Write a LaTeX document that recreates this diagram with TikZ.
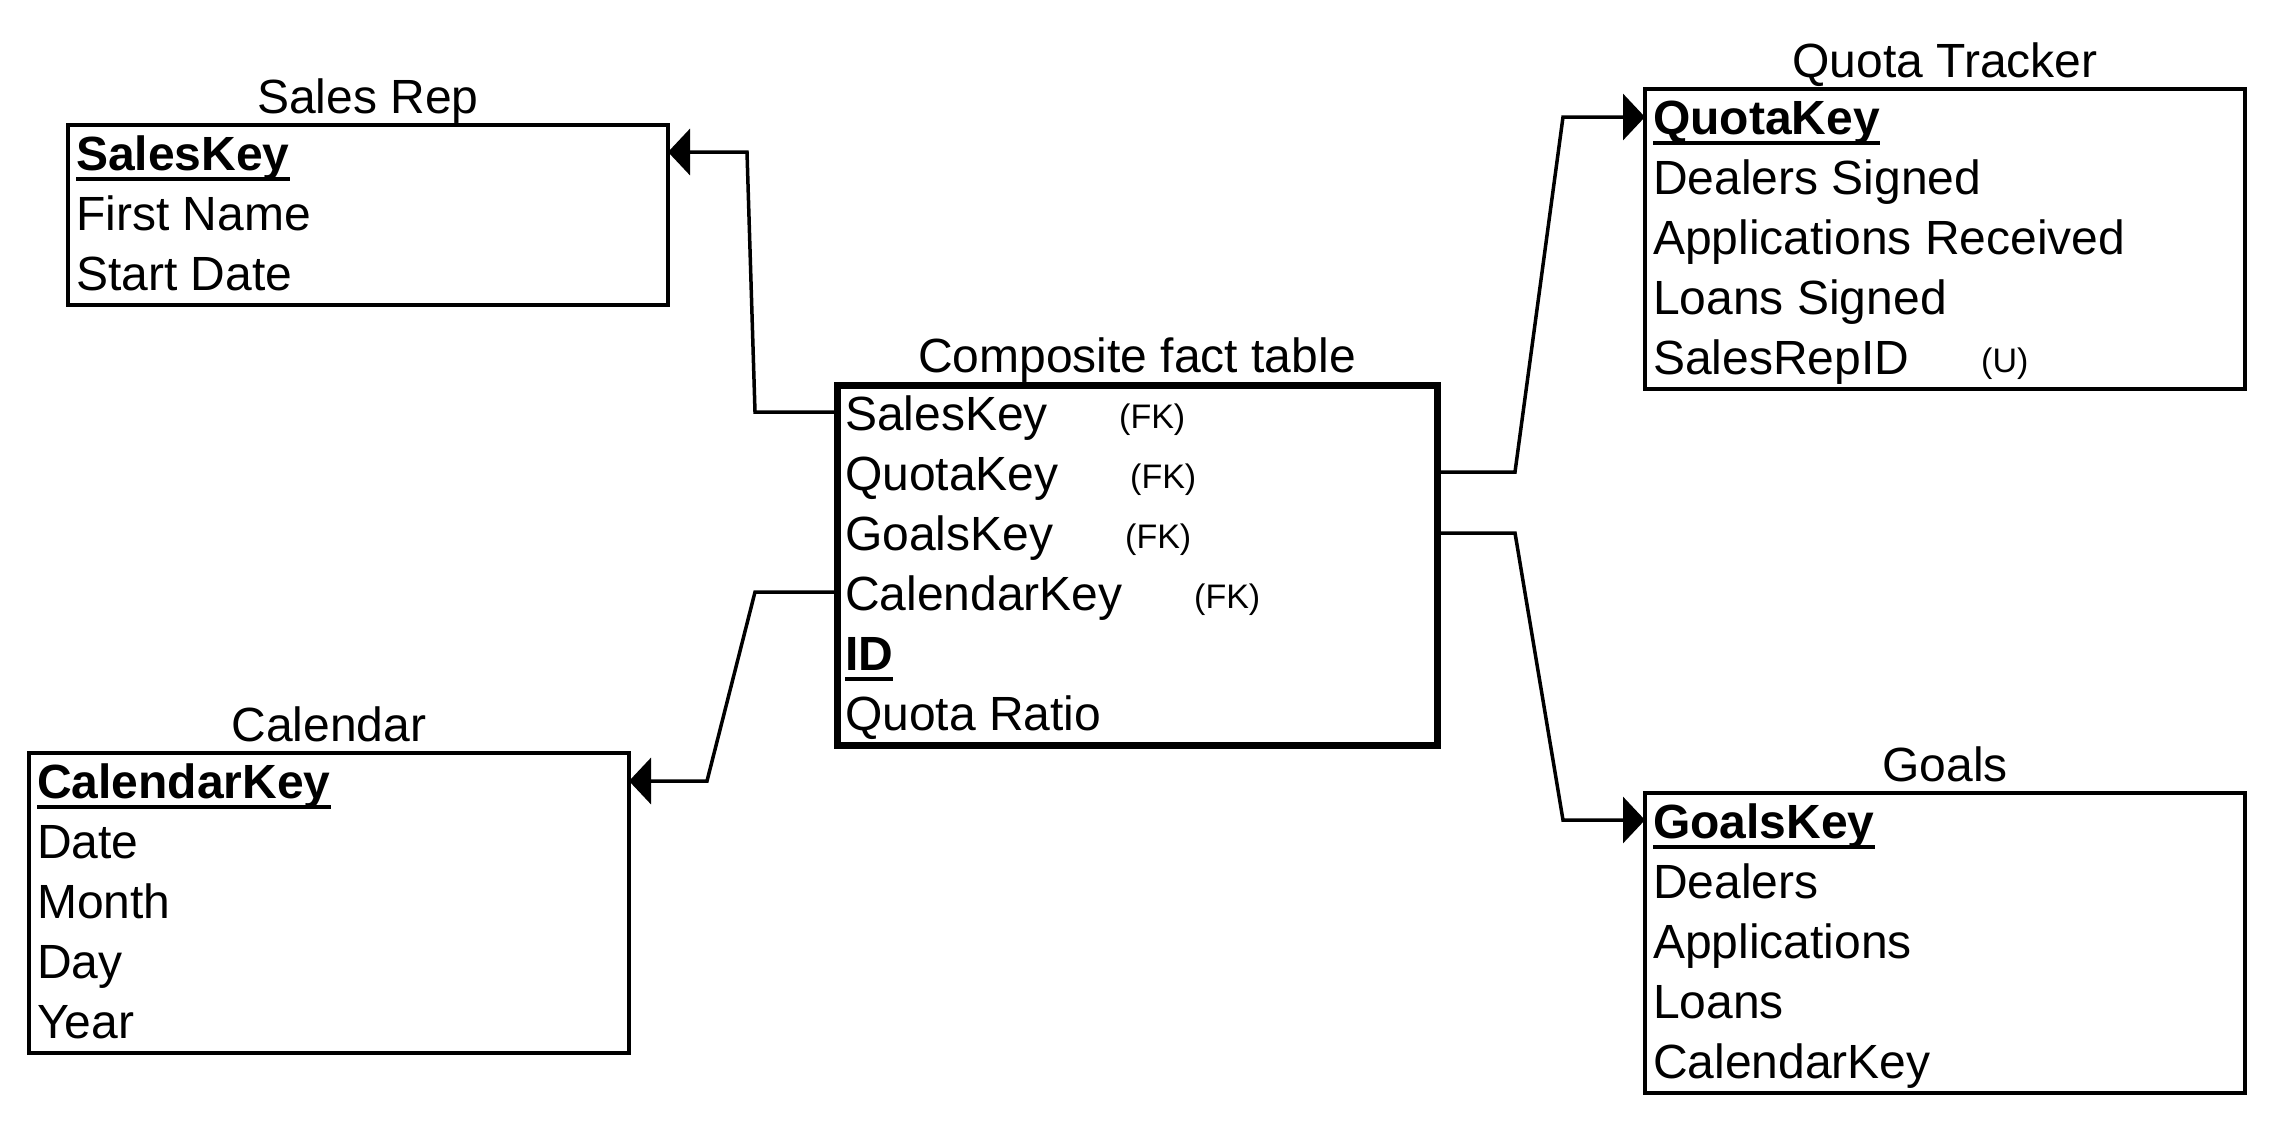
\documentclass[tikz,border=0pt]{standalone}
\usepackage{fontspec}
\setmainfont{Liberation Sans}
\usetikzlibrary{arrows.meta}
\newsavebox\kbox
\newcommand{\keyfield}[1]{{\bfseries\sbox\kbox{#1}\rlap{\rule[-0.225em]{\wd\kbox}{0.075em}}\usebox\kbox}}
\begin{document}
\begin{tikzpicture}[x=1pt,y=-1pt,
  tbox/.style={draw=black, line width=4pt, inner sep=0pt, outer sep=0pt, anchor=north west, minimum width=600pt},
  fbox/.style={tbox, line width=7pt},
  field/.style={anchor=base west, inner sep=0pt, font=\fontsize{48}{56}\selectfont},
  tag/.style={anchor=base west, inner sep=0pt, font=\fontsize{34}{40}\selectfont},
  ttl/.style={anchor=base, inner sep=0pt, font=\fontsize{48}{56}\selectfont},
  conn/.style={line width=3.5pt, line join=miter},
  arr/.style={conn, -{Triangle[length=22pt,width=46pt]}}]

\fill[white] (0,0) rectangle (2272,1120);
\useasboundingbox (0,0) rectangle (2272,1120);

% ---------- Sales Rep ----------
\node[tbox, minimum height=180pt] (sr) at (68,125) {};
\node[ttl] (srt) at (368,113) {Sales Rep};
\node[field] (sr1) at (76,170) {\keyfield{SalesKey}};
\node[field] (sr2) at (76,230) {First Name};
\node[field] (sr3) at (76,290) {Start Date};

% ---------- Composite fact table ----------
\node[fbox, minimum height=360pt] (ft) at (837,385) {};
\node[ttl] (ftt) at (1137,372) {Composite fact table};
\node[field] (f1) at (845,430) {SalesKey};
\node[field] (f2) at (845,490) {QuotaKey};
\node[field] (f3) at (845,550) {GoalsKey};
\node[field] (f4) at (845,610) {CalendarKey};
\node[field] (f5) at (845,670) {\keyfield{ID}};
\node[field] (f6) at (845,730) {Quota Ratio};
\node[tag] (fk1) at (1119,428) {(FK)};
\node[tag] (fk2) at (1130,488) {(FK)};
\node[tag] (fk3) at (1125,548) {(FK)};
\node[tag] (fk4) at (1194,608) {(FK)};

% ---------- Quota Tracker ----------
\node[tbox, minimum height=300pt] (qt) at (1645,89) {};
\node[ttl] (qtt) at (1945,77) {Quota Tracker};
\node[field] (q1) at (1653,134) {\keyfield{QuotaKey}};
\node[field] (q2) at (1653,194) {Dealers Signed};
\node[field] (q3) at (1653,254) {Applications Received};
\node[field] (q4) at (1653,314) {Loans Signed};
\node[field] (q5) at (1653,374) {SalesRepID};
\node[tag] (qu) at (1981,372) {(U)};

% ---------- Goals ----------
\node[tbox, minimum height=300pt] (gl) at (1645,793) {};
\node[ttl] (glt) at (1945,781) {Goals};
\node[field] (g1) at (1653,838) {\keyfield{GoalsKey}};
\node[field] (g2) at (1653,898) {Dealers};
\node[field] (g3) at (1653,958) {Applications};
\node[field] (g4) at (1653,1018) {Loans};
\node[field] (g5) at (1653,1078) {CalendarKey};

% ---------- Calendar ----------
\node[tbox, minimum height=300pt] (cal) at (29,753) {};
\node[ttl] (calt) at (329,741) {Calendar};
\node[field] (c1) at (37,798) {\keyfield{CalendarKey}};
\node[field] (c2) at (37,858) {Date};
\node[field] (c3) at (37,918) {Month};
\node[field] (c4) at (37,978) {Day};
\node[field] (c5) at (37,1038) {Year};

% ---------- connectors ----------
\coordinate (sa) at (755,412);
\coordinate (sb) at (747,152);
\coordinate (qa) at (1515,472);
\coordinate (qb) at (1563,117);
\coordinate (ga) at (1515,533);
\coordinate (gb) at (1563,820);
\coordinate (ca) at (755,592);
\coordinate (cb) at (707,781);

\draw[arr] (ft.west |- sa) -- (sa) -- (sb) -- (sr.east |- sb);
\draw[arr] (ft.east |- qa) -- (qa) -- (qb) -- (qt.west |- qb);
\draw[arr] (ft.east |- ga) -- (ga) -- (gb) -- (gl.west |- gb);
\draw[arr] (ft.west |- ca) -- (ca) -- (cb) -- (cal.east |- cb);
\end{tikzpicture}
\end{document}
